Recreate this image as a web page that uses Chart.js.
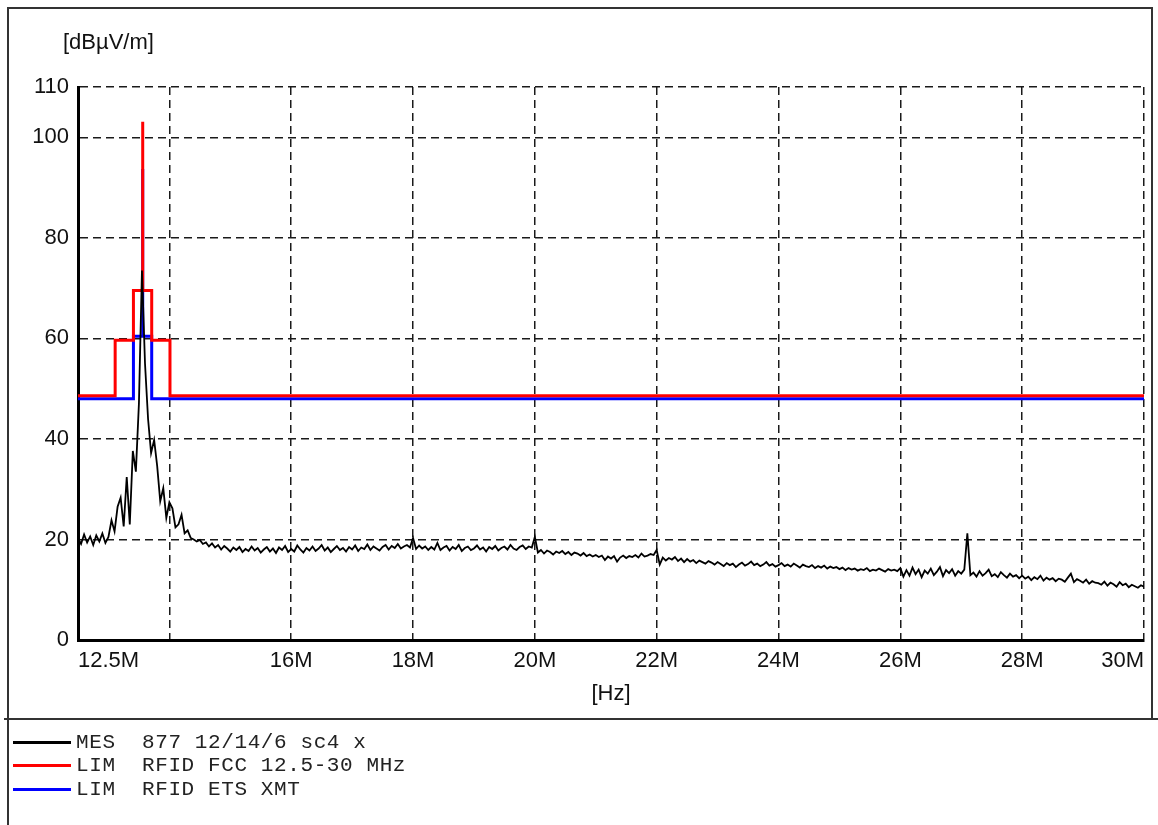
<!DOCTYPE html>
<html>
<head>
<meta charset="utf-8">
<script src="https://cdn.jsdelivr.net/npm/chart.js@4.4.1/dist/chart.umd.min.js"></script>
<style>
  html, body { margin: 0; padding: 0; background: #fff; }
  body { width: 1158px; height: 825px; position: relative; overflow: hidden; font-family: "Liberation Sans", Arial, sans-serif; color: #111; }
  #box { position: absolute; left: 7px; top: 7px; width: 1146px; height: 713px; border: 2px solid #333; border-bottom: none; box-sizing: border-box; }
  #sep { position: absolute; left: 4px; top: 718px; width: 1154px; height: 2px; background: #333; }
  #lowside { position: absolute; left: 7px; top: 718px; width: 2px; height: 107px; background: #333; }
  #chart { position: absolute; left: 0; top: 0; }
  .axtitle { position: absolute; font-size: 22px; line-height: 22px; white-space: nowrap; }
  #legend { position: absolute; left: 13px; top: 731px; }
  .row { height: 23.3px; display: flex; align-items: center; }
  .swatch { width: 58px; height: 3px; margin-right: 5px; }
  .name { font-family: "Liberation Mono", "Courier New", monospace; font-size: 21px; letter-spacing: 0.6px; white-space: pre; color: #222; }
</style>
</head>
<body>
<div id="box"></div>
<div id="sep"></div>
<div id="lowside"></div>
<canvas id="chart" width="1158" height="825"></canvas>
<div class="axtitle" id="ytitle" style="left:63px; top:31px;">[dBµV/m]</div>
<div class="axtitle" id="xtitle" style="left:561px; width:100px; text-align:center; top:682px;">[Hz]</div>
<div id="legend"></div>
<script>
// оси
const xTicks = [12.5, 14, 16, 18, 20, 22, 24, 26, 28, 30];
const xTickLabels = ['12.5M', '', '16M', '18M', '20M', '22M', '24M', '26M', '28M', '30M'];
const yTicks = [0, 20, 40, 60, 80, 100, 110];

// подписи серий
const seriesNames = ['MES  877 12/14/6 sc4 x', 'LIM  RFID FCC 12.5-30 MHz', 'LIM  RFID ETS XMT'];
const seriesColors = ['#000000', '#ff0000', '#0000ff'];

// измерение: развертка 12.5 .. 30 МГц, шаг 0.05 МГц
const measStart = 12.5;
const measStep = 0.05;
const measLevel = [
  20.2, 19.1, 21.0, 19.4, 20.6, 18.9, 20.8, 19.6, 21.2, 19.3,
  20.5, 23.8, 21.6, 26.5, 28.3, 22.6, 32.4, 23.0, 37.6, 33.5,
  47.0, 73.5, 55.0, 44.0, 37.2, 39.8, 34.6, 27.6, 30.2, 24.3,
  27.4, 26.2, 22.4, 23.0, 24.9, 21.2, 21.8, 20.3, 20.0, 19.6,
  19.9, 19.1, 19.4, 18.6, 19.2, 18.4, 18.9, 18.0, 18.7, 18.2,
  17.6, 18.4, 17.9, 18.5, 17.5, 18.1, 17.7, 18.6, 17.8, 18.3,
  17.4, 18.0, 18.5, 17.6, 18.2, 17.3, 18.4, 17.9, 18.7, 17.5,
  18.1, 17.6, 18.8, 18.0, 17.4, 18.3, 17.8, 18.6, 17.7, 18.2,
  18.9, 17.8, 18.4, 17.5, 18.1, 18.7, 17.9, 18.3, 17.6, 18.5,
  18.0, 18.8, 17.7, 18.4, 18.1, 19.0, 17.9, 18.6, 18.2, 17.8,
  18.5, 18.9, 18.0, 18.7, 18.3, 19.1, 18.2, 18.6, 18.9, 18.4,
  20.3, 18.1, 18.8, 18.2, 18.6, 17.9, 18.5, 18.0, 19.3, 17.9,
  18.4, 18.7, 17.8, 18.5, 18.1, 18.9, 17.7, 18.3, 18.6, 17.9,
  18.2, 18.8, 18.0, 18.4, 17.6, 18.5, 18.1, 18.7, 17.8, 18.3,
  18.6, 18.0, 18.9, 18.2, 17.9, 18.5, 18.8, 18.1, 18.6, 18.4,
  20.5, 17.4, 17.9, 17.2, 17.8, 17.5, 17.0, 17.6, 17.3, 17.7,
  17.1, 17.5, 16.9, 17.4, 17.2, 16.8, 17.3, 16.7, 17.0, 16.6,
  16.9, 16.5, 16.8, 15.9, 16.6, 16.2, 16.7, 15.6, 16.4, 16.8,
  16.3, 16.7, 16.5, 16.9, 16.4, 17.2, 16.6, 16.8, 17.1, 16.9,
  17.9, 15.0, 16.4, 15.8, 16.3, 16.0, 16.5, 15.7, 16.2, 15.5,
  16.1, 15.6, 15.9, 15.3, 15.8, 15.5, 15.2, 15.7, 15.4, 15.0,
  15.5, 15.1, 14.7, 15.3, 14.9, 15.2, 14.5, 15.0, 15.4, 14.8,
  15.1, 15.6, 14.9, 15.2, 14.7, 15.0, 15.5, 14.8, 15.1, 14.6,
  14.9, 15.3, 14.7, 15.0, 14.6, 15.2, 14.8, 14.4, 15.0, 14.7,
  14.5, 14.9, 14.3, 14.7, 14.4, 14.8, 14.2, 14.6, 14.3, 14.5,
  14.1, 14.4, 13.9, 14.3, 14.0, 14.2, 13.8, 14.1, 13.9, 14.3,
  13.7, 14.0, 13.8, 14.2, 13.9, 13.6, 14.1, 13.8, 14.0, 13.7,
  14.3, 12.6, 13.9, 12.8, 14.4, 13.1, 14.0, 12.5, 13.8, 13.2,
  14.2, 12.9, 13.6, 14.5, 12.7, 13.9, 13.3, 14.1, 12.8, 13.7,
  13.2, 14.0, 21.2, 12.9, 13.4, 12.6, 13.7, 12.8, 13.3, 14.0,
  12.7, 13.1, 12.5, 13.5, 12.9, 12.4, 13.2, 12.6, 12.9, 12.3,
  12.8, 12.2, 12.6, 11.9, 12.5, 12.1, 12.8, 11.8, 12.4, 12.0,
  12.3, 11.7, 12.2, 12.0, 11.6, 12.4, 13.2, 11.5, 12.1, 11.8,
  11.4, 12.0, 11.2, 11.7, 11.4, 11.3, 11.0, 11.6, 10.8, 11.4,
  11.1, 10.6, 11.5, 10.9, 11.2, 10.5, 11.0, 10.7, 10.4, 10.9,
  10.6
];

// предел FCC (ступени)
const fccFreq  = [12.5, 13.11, 13.11, 13.41, 13.41, 13.553, 13.553, 13.567, 13.567, 13.71, 13.71, 14.01, 14.01, 30];
const fccLevel = [48.6, 48.6, 59.6, 59.6, 69.5, 69.5, 103.1, 103.1, 69.5, 69.5, 59.6, 59.6, 48.6, 48.6];

// предел ETSI
const etsFreq  = [12.5, 13.41, 13.41, 13.553, 13.553, 13.567, 13.567, 13.71, 13.71, 30];
const etsLevel = [48.0, 48.0, 60.4, 60.4, 93.7, 93.7, 60.4, 60.4, 48.0, 48.0];

const measPoints = measLevel.map((v, i) => ({ x: measStart + i * measStep, y: v }));
const fccPoints = fccFreq.map((f, i) => ({ x: f, y: fccLevel[i] }));
const etsPoints = etsFreq.map((f, i) => ({ x: f, y: etsLevel[i] }));

// легенда внизу
const legend = document.getElementById('legend');
seriesNames.forEach((name, i) => {
  const row = document.createElement('div');
  row.className = 'row';
  row.innerHTML = '<div class="swatch" style="background:' + seriesColors[i] + '"></div><span class="name"></span>';
  row.querySelector('.name').textContent = name;
  legend.appendChild(row);
});

const font = { family: '"Liberation Sans", Arial, sans-serif', size: 22 };
const gridOpts = { color: '#1a1a1a', lineWidth: 1.5, drawTicks: false };
const borderOpts = { color: '#000', width: 3, dash: [8, 5] };

new Chart(document.getElementById('chart').getContext('2d'), {
  type: 'line',
  data: {
    datasets: [
      { label: seriesNames[0], data: measPoints, borderColor: seriesColors[0], borderWidth: 1.8, pointRadius: 0, tension: 0 },
      { label: seriesNames[1], data: fccPoints, borderColor: seriesColors[1], borderWidth: 3, pointRadius: 0, tension: 0 },
      { label: seriesNames[2], data: etsPoints, borderColor: seriesColors[2], borderWidth: 3, pointRadius: 0, tension: 0 }
    ]
  },
  options: {
    responsive: false,
    animation: false,
    devicePixelRatio: 1,
    layout: { padding: { left: 8, right: 14, top: 87, bottom: 105 } },
    plugins: { legend: { display: false }, tooltip: { enabled: false } },
    scales: {
      x: {
        type: 'linear',
        min: 12.5,
        max: 30,
        afterBuildTicks: s => { s.ticks = xTicks.map(v => ({ value: v })); },
        afterFit: s => { s.height = 80; },
        ticks: {
          autoSkip: false, maxRotation: 0, align: 'inner', padding: 8,
          color: '#111', font: font,
          callback: (v, i) => xTickLabels[i]
        },
        grid: gridOpts,
        border: borderOpts
      },
      y: {
        min: 0,
        max: 110,
        afterBuildTicks: s => { s.ticks = yTicks.map(v => ({ value: v })); },
        afterFit: s => { s.width = 70; },
        ticks: { padding: 9, color: '#111', font: font, callback: v => v },
        grid: gridOpts,
        border: borderOpts
      }
    }
  }
});
</script>
</body>
</html>
